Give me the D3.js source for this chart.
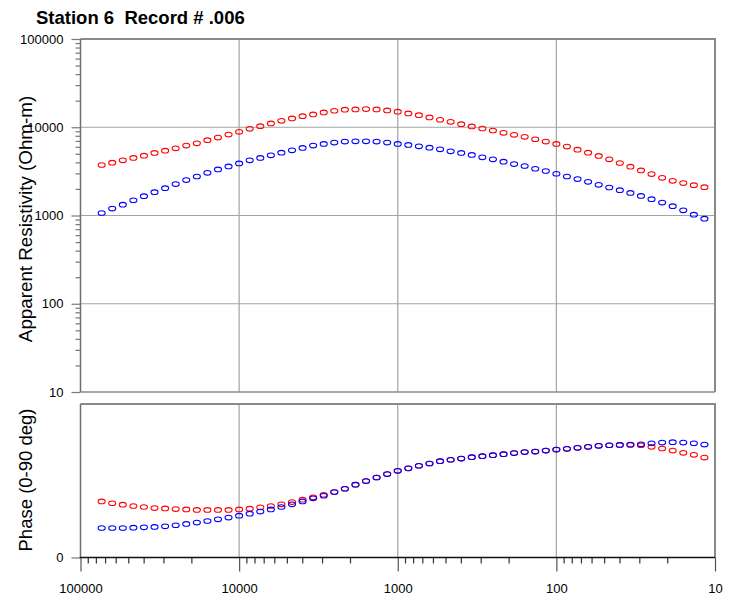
<!DOCTYPE html>
<html>
<head>
<meta charset="utf-8">
<script src="https://cdn.jsdelivr.net/npm/d3@7/dist/d3.min.js"></script>
<style>
  html, body { margin: 0; padding: 0; background: #fff; }
  svg { display: block; font-family: "Liberation Sans", Arial, Helvetica, sans-serif; }
  .tick text { font-size: 13px; font-family: "Liberation Sans", Arial, sans-serif; fill: #000; }
</style>
</head>
<body>
<svg id="chart" width="742" height="600"></svg>
<script>
// ---------------- data ----------------
const title = "Station 6  Record # .006";
const yLabelTop = "Apparent Resistivity (Ohm-m)";
const yLabelBottom = "Phase (0-90 deg)";

const periods = [73564, 63096, 54117, 46416, 39811, 34145, 29286, 25119, 21544, 18478,
  15849, 13594, 11659, 10000, 8577.0, 7356.4, 6309.6, 5411.7, 4641.6, 3981.1,
  3414.5, 2928.6, 2511.9, 2154.4, 1847.8, 1584.9, 1359.4, 1165.9, 1000, 857.70,
  735.64, 630.96, 541.17, 464.16, 398.11, 341.45, 292.86, 251.19, 215.44, 184.78,
  158.49, 135.94, 116.59, 100, 85.770, 73.564, 63.096, 54.117, 46.416, 39.811,
  34.145, 29.286, 25.119, 21.544, 18.478, 15.849, 13.594, 11.659];

const rhoXY = [3733, 3963, 4217, 4487, 4764, 5117, 5433, 5768, 6194, 6577,
  7129, 7638, 8260, 8872, 9594, 10280, 11041, 11830, 12589, 13366,
  13964, 14723, 15382, 15812, 15922, 16069, 15922, 15524, 14997, 14355,
  13709, 12912, 12162, 11535, 10839, 10209, 9683, 9183, 8650, 8204,
  7780, 7311, 6887, 6471, 6039, 5572, 5152, 4732, 4325, 3936,
  3573, 3243, 2951, 2673, 2472, 2328, 2208, 2094];

const rhoYX = [1067, 1197, 1327, 1489, 1656, 1837, 2042, 2270, 2518, 2767,
  3048, 3327, 3597, 3890, 4217, 4487, 4808, 5152, 5483, 5834,
  6194, 6471, 6699, 6887, 6934, 6934, 6887, 6699, 6471, 6310,
  6081, 5875, 5623, 5333, 5117, 4853, 4560, 4325, 4074, 3828,
  3639, 3388, 3192, 2972, 2767, 2588, 2410, 2228, 2075, 1936,
  1803, 1667, 1531, 1400, 1274, 1146, 1021, 920];

const phaseXY = [32.9, 31.8, 31.0, 30.2, 29.6, 29.0, 28.8, 28.4, 28.2, 27.9,
  27.9, 27.9, 27.9, 28.2, 28.6, 29.4, 30.2, 31.2, 32.5, 33.9,
  35.3, 36.8, 38.4, 40.3, 42.7, 44.8, 46.9, 48.9, 50.8, 52.3,
  53.8, 55.1, 56.5, 57.3, 58.0, 58.8, 59.4, 60.0, 60.6, 61.2,
  61.8, 62.1, 62.7, 63.3, 63.7, 64.3, 64.9, 65.5, 65.8, 66.0,
  66.0, 65.8, 64.9, 63.9, 62.7, 61.4, 60.2, 58.6];

const phaseYX = [17.3, 17.3, 17.3, 17.5, 17.7, 17.9, 18.3, 18.9, 19.7, 20.5,
  21.4, 22.4, 23.4, 24.5, 25.7, 26.9, 28.2, 29.6, 31.2, 32.9,
  34.7, 36.2, 38.4, 40.3, 42.7, 44.8, 46.9, 48.9, 50.8, 52.3,
  53.8, 55.1, 56.5, 57.3, 58.0, 58.8, 59.4, 60.0, 60.6, 61.2,
  61.8, 62.1, 62.7, 63.3, 63.7, 64.3, 64.9, 65.5, 65.8, 66.0,
  66.2, 66.4, 67.0, 67.4, 67.6, 67.4, 67.0, 66.2];

const xMajorTicks = [100000, 10000, 1000, 100, 10];
const rhoMajorTicks = [10, 100, 1000, 10000, 100000];
const phaseTicks = [0];

// ---------------- layout ----------------
const svg = d3.select("#chart");
const L = 80.5, R = 715;
const topT = 39, topB = 392;
const botT = 404, botB = 557.5;

const x = d3.scaleLog().domain([100000, 10]).range([L, R]);
const yRho = d3.scaleLog().domain([10, 100000]).range([topB, topT]);
const yPh = d3.scaleLinear().domain([0, 90]).range([botB, botT]);

function minorTicks(lo, hi) {
  const out = [];
  for (let d = lo; d < hi; d *= 10) for (let k = 2; k <= 9; k++) out.push(d * k);
  return out;
}
const xMinor = minorTicks(10, 100000);
const rhoMinor = minorTicks(10, 100000);

const gridColor = "#a3a3a3";
const frameColor = "#8a8a8a";

// grids
const grid = svg.append("g");
xMajorTicks.filter(v => v !== 100000 && v !== 10).forEach(v => {
  grid.append("line").attr("x1", x(v)).attr("x2", x(v)).attr("y1", topT).attr("y2", topB)
    .attr("stroke", gridColor).attr("stroke-width", 1.2);
  grid.append("line").attr("x1", x(v)).attr("x2", x(v)).attr("y1", botT).attr("y2", botB)
    .attr("stroke", gridColor).attr("stroke-width", 1.2);
});
rhoMajorTicks.filter(v => v !== 10 && v !== 100000).forEach(v => {
  grid.append("line").attr("x1", L).attr("x2", R).attr("y1", yRho(v)).attr("y2", yRho(v))
    .attr("stroke", gridColor).attr("stroke-width", 1.2);
});

// frames
const frame = svg.append("g").attr("fill", "none");
frame.append("polyline").attr("points", `${L},${topT} ${R},${topT} ${R},${topB}`)
  .attr("stroke", frameColor).attr("stroke-width", 2);
frame.append("line").attr("x1", L).attr("x2", R).attr("y1", topB).attr("y2", topB)
  .attr("stroke", frameColor).attr("stroke-width", 1.5);
frame.append("polyline").attr("points", `${L},${botT} ${R},${botT} ${R},${botB}`)
  .attr("stroke", frameColor).attr("stroke-width", 2);
frame.append("line").attr("x1", L).attr("x2", L).attr("y1", topT).attr("y2", topB)
  .attr("stroke", "#6e6e6e").attr("stroke-width", 1.5);
frame.append("line").attr("x1", L).attr("x2", L).attr("y1", botT).attr("y2", botB)
  .attr("stroke", "#6e6e6e").attr("stroke-width", 1.5);

// axes
function styleAxis(g, color) {
  g.attr("font-size", 13).attr("font-family", '"Liberation Sans", Arial, sans-serif');
  g.select(".domain").remove();
  g.selectAll(".tick line").attr("stroke", color).attr("stroke-width", 1.2);
  g.selectAll(".tick text").attr("fill", "#000").attr("font-size", 13);
}
const fmt = d3.format("d");

const rhoMinorAxis = svg.append("g").attr("transform", `translate(${L},0)`)
  .call(d3.axisLeft(yRho).tickValues(rhoMinor).tickSize(5).tickFormat(""));
styleAxis(rhoMinorAxis, "#777");
const rhoAxis = svg.append("g").attr("transform", `translate(${L},0)`)
  .call(d3.axisLeft(yRho).tickValues(rhoMajorTicks).tickSize(9).tickPadding(8).tickFormat(fmt));
styleAxis(rhoAxis, "#777");

const phAxis = svg.append("g").attr("transform", `translate(${L},0)`)
  .call(d3.axisLeft(yPh).tickValues(phaseTicks).tickSize(9).tickPadding(8).tickFormat(fmt));
styleAxis(phAxis, "#777");

const xMinorAxis = svg.append("g").attr("transform", `translate(0,${botB})`)
  .call(d3.axisBottom(x).tickValues(xMinor).tickSize(6).tickFormat(""));
styleAxis(xMinorAxis, "#333");
const xAxis = svg.append("g").attr("transform", `translate(0,${botB})`)
  .call(d3.axisBottom(x).tickValues(xMajorTicks).tickSize(14).tickFormat(fmt));
styleAxis(xAxis, "#555");
xAxis.selectAll("text").attr("y", 35).attr("dy", 0);
svg.append("line").attr("x1", L - 0.75).attr("x2", R).attr("y1", botB).attr("y2", botB)
  .attr("stroke", "#111").attr("stroke-width", 1.5);

// markers
function drawSeries(yScale, vals, color) {
  svg.append("g").selectAll("ellipse").data(periods).join("ellipse")
    .attr("cx", d => x(d))
    .attr("cy", (d, i) => yScale(vals[i]))
    .attr("rx", 3.5).attr("ry", 2.3)
    .attr("fill", "none").attr("stroke", color).attr("stroke-width", 1.1);
}
drawSeries(yRho, rhoXY, "#ff0000");
drawSeries(yRho, rhoYX, "#0000ff");
drawSeries(yPh, phaseXY, "#ff0000");
drawSeries(yPh, phaseYX, "#0000ff");

// titles
svg.append("text").attr("x", 36).attr("y", 23.5)
  .style("font-weight", "bold").style("font-size", "18.5px").style("white-space", "pre")
  .attr("fill", "#000").text(title);
svg.append("text").attr("transform", `translate(31.5,219) rotate(-90)`)
  .attr("text-anchor", "middle").style("font-size", "18.8px").attr("fill", "#000").text(yLabelTop);
svg.append("text").attr("transform", `translate(31.5,480) rotate(-90)`)
  .attr("text-anchor", "middle").style("font-size", "18.5px").attr("fill", "#000").text(yLabelBottom);
</script>
</body>
</html>
